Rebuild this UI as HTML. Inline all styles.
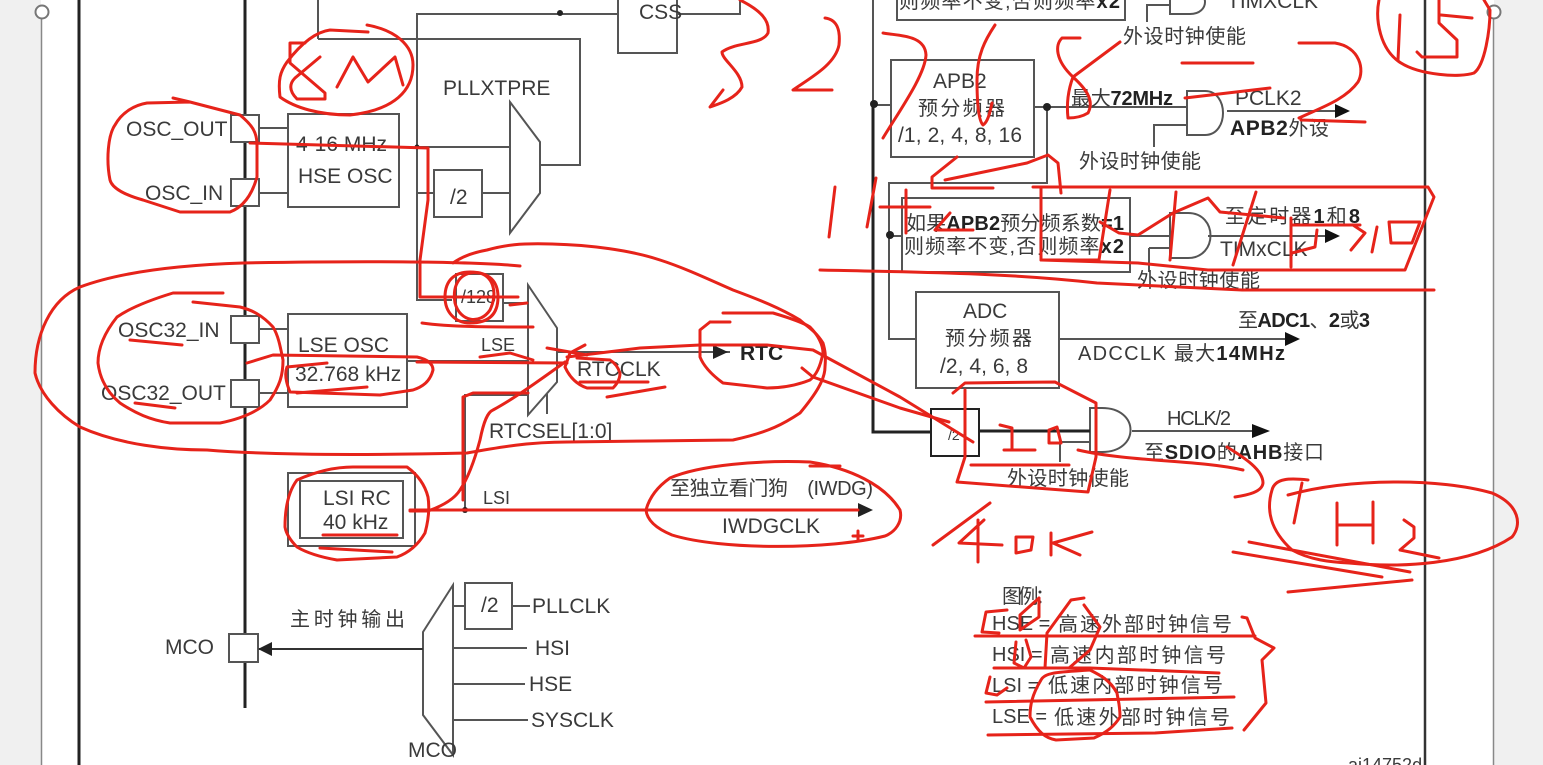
<!DOCTYPE html>
<html><head><meta charset="utf-8"><style>
html,body{margin:0;padding:0;background:#fff}
svg{display:block}
text{font-family:"Liberation Sans","Noto Sans CJK SC",sans-serif;font-size:21px;fill:#3a3a3a}
.b{font-weight:bold;fill:#222}
.c{font-size:20px}
.g{fill:none;stroke:#555;stroke-width:2}
.r{fill:none;stroke:#e6231a;stroke-width:3;stroke-linecap:round;stroke-linejoin:round}
</style></head><body>
<svg width="1543" height="765" viewBox="0 0 1543 765" xmlns="http://www.w3.org/2000/svg">
<rect width="1543" height="765" fill="#fff"/>
<rect x="0" y="0" width="41" height="765" fill="#f0f0f0"/>
<rect x="1494" y="0" width="49" height="765" fill="#f0f0f0"/>
<line x1="41.500" y1="16" x2="41.500" y2="765" stroke="#888" stroke-width="1.500"/>
<line x1="1493.500" y1="16" x2="1493.500" y2="765" stroke="#888" stroke-width="1.500"/>
<circle cx="42" cy="12" r="6.500" fill="#fff" stroke="#777" stroke-width="2"/>
<circle cx="1494" cy="12" r="6.500" fill="#fff" stroke="#777" stroke-width="2"/>
<line x1="79" y1="0" x2="79" y2="765" stroke="#222" stroke-width="3"/>
<line x1="245" y1="0" x2="245" y2="708" stroke="#222" stroke-width="3"/>
<line x1="1425" y1="0" x2="1425" y2="765" stroke="#333" stroke-width="2.500"/>

<!-- gray structure left -->
<g class="g">
<path d="M318 0V39M318 39H417M417 14H618M417 13V300H452M417 39H580V165H540M417 147H510M417 193H434M482 193H510"/>
<path d="M510 102L540 142V193L510 233Z"/>
<rect x="434" y="170" width="48" height="47"/>
<rect x="618" y="-10" width="59" height="63"/>
<path d="M677 14H740V0"/>
<rect x="288" y="114" width="111" height="93"/>
<rect x="231" y="115" width="28" height="27" fill="#fff"/>
<rect x="231" y="179" width="28" height="27" fill="#fff"/>
<path d="M259 128H288M259 193H288"/>
<rect x="288" y="314" width="119" height="93"/>
<rect x="231" y="316" width="28" height="27" fill="#fff"/>
<rect x="231" y="380" width="28" height="27" fill="#fff"/>
<path d="M259 329H288M259 393H288"/>
<rect x="456" y="274" width="47" height="47"/>
<path d="M503 303H528M407 361H528"/>
<path d="M528 285L557 328V382L528 415Z"/>
<path d="M547 394V414"/>
<path d="M558 352H730"/>
<path d="M465 510V395H528"/>
<rect x="288" y="473" width="127" height="73"/>
<rect x="300" y="481" width="103" height="57"/>
<path d="M415 510H860" stroke="#333"/>
<!-- MCO -->
<path d="M423 632L453 585V755L423 715Z"/>
<rect x="465" y="583" width="47" height="46"/>
<path d="M453 606H465M512 606H530M453 648H527M453 684H525M453 720H528"/>
<path d="M258 649H423" stroke="#333"/>
<rect x="229" y="634" width="29" height="28" fill="#fff"/>
</g>
<circle cx="465" cy="510" r="3" fill="#222"/>
<circle cx="417" cy="147" r="2.500" fill="#222"/>
<circle cx="560" cy="13" r="3" fill="#222"/>
<polygon points="258,649 272,642 272,656" fill="#222"/>
<polygon points="713,345 728,352 713,359" fill="#222"/>
<polygon points="858,503 873,510 858,517" fill="#222"/>

<!-- gray structure right -->
<g class="g">
<path d="M873 0V433M873 105H891M1034 107H1187M1047 107V183H889V339H915"/>
<rect x="897" y="-12" width="228" height="32"/>
<rect x="891" y="60" width="143" height="97"/>
<rect x="902" y="198" width="228" height="74"/>
<path d="M889 236H902M1130 236H1170M1149 248H1170M1149 248V272"/>
<path d="M1170 213H1188C1218 213 1218 258 1188 258H1170Z"/>
<path d="M1187 91H1205C1229 91 1229 135 1205 135H1187Z"/>
<path d="M1187 125H1154V147"/>
<path d="M1208 236H1327M1227 111H1335"/>
<path d="M1170 -10V14H1190C1210 14 1210 -10 1190 -10M1170 5H1147V22"/>
<rect x="916" y="292" width="143" height="96"/>
<path d="M1059 339H1290"/>
<rect x="931" y="409" width="48" height="47" stroke="#222"/>
<path d="M979 431H1090M1060 442H1090M1060 442V462"/>
<path d="M1090 408H1102C1140 408 1140 452 1102 452H1090Z"/>
<path d="M1132 431H1255"/>
</g>
<path d="M873 105V432H931" fill="none" stroke="#222" stroke-width="3"/>
<path d="M979 431H1090" stroke="#222" stroke-width="3"/>
<circle cx="874" cy="104" r="4" fill="#222"/>
<circle cx="1047" cy="107" r="4" fill="#222"/>
<circle cx="890" cy="235" r="4" fill="#222"/>
<polygon points="1325,229 1340,236 1325,243" fill="#111"/>
<polygon points="1335,104 1350,111 1335,118" fill="#111"/>
<polygon points="1285,332 1300,339 1285,346" fill="#111"/>
<polygon points="1252,424 1270,431 1252,438" fill="#111"/>

<!-- text -->
<text x="639" y="19">CSS</text>
<text x="443" y="95">PLLXTPRE</text>
<text x="126" y="136">OSC_OUT</text>
<text x="145" y="200">OSC_IN</text>
<text x="296" y="151">4-16 MHz</text>
<text x="298" y="183">HSE OSC</text>
<text x="450" y="204">/2</text>
<text x="461" y="303" style="font-size:18px">/128</text>
<text x="118" y="337">OSC32_IN</text>
<text x="101" y="400">OSC32_OUT</text>
<text x="298" y="352">LSE OSC</text>
<text x="295" y="381">32.768 kHz</text>
<text x="481" y="351" style="font-size:18px">LSE</text>
<text x="577" y="376">RTCCLK</text>
<text class="b" x="740" y="360">RTC</text>
<text x="489" y="438">RTCSEL[1:0]</text>
<text x="323" y="505">LSI RC</text>
<text x="323" y="529">40 kHz</text>
<text x="483" y="504" style="font-size:18px">LSI</text>
<text x="670" y="495" class="c" textLength="203">至独立看门狗　(IWDG)</text>
<text x="722" y="533">IWDGCLK</text>
<text x="290" y="626" class="c" textLength="115">主时钟输出</text>
<text x="165" y="654">MCO</text>
<text x="481" y="612">/2</text>
<text x="532" y="613">PLLCLK</text>
<text x="535" y="655">HSI</text>
<text x="529" y="691">HSE</text>
<text x="531" y="727">SYSCLK</text>
<text x="408" y="757">MCO</text>

<text x="899" y="8" class="c" textLength="221">则频率不变,否则频率<tspan class="b">x2</tspan></text>
<text x="1227" y="8">TIMXCLK</text>
<text x="1123" y="43" class="c" textLength="123">外设时钟使能</text>
<text x="933" y="88">APB2</text>
<text x="918" y="115" class="c" textLength="87">预分频器</text>
<text x="898" y="142" textLength="124">/1, 2, 4, 8, 16</text>
<text x="1071" y="105" class="c" textLength="102">最大<tspan class="b">72MHz</tspan></text>
<text x="1235" y="105">PCLK2</text>
<text x="1230" y="135" class="c" textLength="99"><tspan class="b" style="font-size:21px">APB2</tspan>外设</text>
<text x="1079" y="168" class="c" textLength="122">外设时钟使能</text>
<text x="906" y="230" class="c" textLength="218">如果<tspan class="b">APB2</tspan>预分频系数<tspan class="b">=1</tspan></text>
<text x="904" y="253" class="c" textLength="220">则频率不变,否则频率<tspan class="b">x2</tspan></text>
<text x="1225" y="223" class="c" textLength="135">至定时器<tspan class="b">1</tspan>和<tspan class="b">8</tspan></text>
<text x="1220" y="256">TIMxCLK</text>
<text x="1137" y="287" class="c" textLength="123">外设时钟使能</text>
<text x="963" y="318">ADC</text>
<text x="945" y="345" class="c" textLength="87">预分频器</text>
<text x="940" y="373" textLength="88">/2, 4, 6, 8</text>
<text x="1238" y="327" class="c" textLength="132">至<tspan class="b">ADC1</tspan>、<tspan class="b">2</tspan>或<tspan class="b">3</tspan></text>
<text x="1078" y="360" class="c" textLength="207">ADCCLK  最大<tspan class="b">14MHz</tspan></text>
<text x="948" y="440" style="font-size:14px">/2</text>
<text x="1167" y="425" class="c" textLength="64">HCLK/2</text>
<text x="1007" y="485" class="c" textLength="122">外设时钟使能</text>
<text x="1144" y="459" class="c" textLength="180">至<tspan class="b">SDIO</tspan>的<tspan class="b">AHB</tspan>接口</text>
<text x="1002" y="603" class="c" textLength="53">图例：</text>
<text x="992" y="630" class="c">HSE =</text>
<text x="1058" y="631" class="c" textLength="174">高速外部时钟信号</text>
<text x="992" y="661" class="c">HSI =</text>
<text x="1050" y="662" class="c" textLength="176">高速内部时钟信号</text>
<text x="992" y="692" class="c">LSI =</text>
<text x="1048" y="692" class="c" textLength="175">低速内部时钟信号</text>
<text x="992" y="723" class="c">LSE =</text>
<text x="1054" y="724" class="c" textLength="176">低速外部时钟信号</text>
<text x="1348" y="771" style="font-size:18px">ai14752d</text>

<!-- red annotations -->
<g class="r">
<!-- 8M -->
<path d="M367 25C395 30 413 45 413 65C413 90 395 110 350 115C320 115 295 108 280 97C278 80 280 72 287 62C300 45 315 32 330 30L368 32"/>
<path d="M290 43H305M290 43V63L325 93V99H297C288 90 290 83 295 78L320 57M337 87L353 57L368 82L395 57L403 85"/>
<!-- OSC loop -->
<path d="M173 98L190 102L240 115C252 125 257 132 257 145V177C252 195 243 207 230 212H180L143 200C125 195 112 188 110 180C106 160 108 135 115 125C122 112 135 105 147 103L190 102"/>
<path d="M250 143L428 148V200L420 260V297H518M510 305L527 303"/>
<!-- /128 -->
<path d="M445 297C445 280 455 272 470 272C490 272 498 282 498 297C498 315 488 323 470 323C455 323 445 312 445 297Z"/>
<path d="M455 303C452 285 460 270 480 273C495 278 497 295 490 310C480 325 460 322 455 303Z"/>
<path d="M422 323C450 327 490 327 533 327"/>
<!-- big loop -->
<path d="M520 266C470 261 350 261 243 263C180 265 120 272 80 287C50 300 35 335 35 373C40 395 60 415 80 427C120 445 170 450 207 450C280 456 380 455 467 453C500 447 530 442 567 442C620 441 680 441 733 440C770 432 785 423 800 413C815 395 825 380 825 367C826 355 825 350 823 343C815 330 805 325 800 320C780 308 760 300 733 290C710 280 685 268 660 260C630 250 590 245 552 244C520 243 505 245 487 250C470 253 460 258 453 263"/>
<!-- OSC32 loop -->
<path d="M223 293H173C150 300 130 308 117 317C105 332 98 348 98 363C100 380 108 393 120 403C135 413 150 420 170 423H220C245 418 260 410 270 400C280 385 283 375 283 360C280 345 278 335 273 327C262 315 252 310 240 307L193 302"/>
<path d="M130 340L182 345M135 403L175 408"/>
<!-- LSE -->
<path d="M247 363L273 355L417 357C430 360 433 365 433 370C430 382 422 387 413 390L380 395L290 392C285 380 285 372 287 367L327 363"/>
<path d="M297 393L367 387"/>
<path d="M417 362L567 363M480 357L510 353L533 360"/>
<path d="M547 348L587 355M585 345L570 353L565 367C570 378 578 385 587 388H613C618 383 620 378 620 373C618 367 615 363 610 360L577 358"/>
<path d="M580 382H648M607 397L665 387"/>
<path d="M567 357L640 348L700 345H767L813 350L900 397L973 442"/>
<path d="M802 368L813 377L900 408L949 422"/>
<!-- RTC -->
<path d="M710 322H730M723 313H773C790 318 802 322 810 327C818 335 823 345 823 353C820 368 816 375 810 380C795 386 780 388 767 388L723 383C712 375 704 367 700 357V330L710 322"/>
<!-- LSI -->
<path d="M285 527C285 510 288 492 297 480C315 472 335 467 353 467H407C418 475 425 485 428 497C430 510 428 522 425 533C418 545 408 553 397 557L337 560C320 557 307 553 297 547C290 540 286 533 285 527Z"/>
<path d="M323 535H397M320 548L392 552"/>
<path d="M410 511H428C445 505 455 498 460 490C470 475 476 455 480 440C484 420 488 412 493 410C515 398 540 380 565 362"/>
<path d="M463 500V397L473 393H528"/>
<path d="M410 510H858"/>
<!-- IWDG -->
<path d="M646 510C650 495 660 485 670 478C700 465 760 460 810 462C850 468 885 485 900 510C903 522 895 532 885 536C830 550 720 550 672 535C655 528 647 520 646 510Z"/>
<path d="M810 466H840M853 536H863M858 531V541"/>
<!-- 3 2 7 6 8 -->
<path d="M740 0C760 10 770 20 768 33C762 45 735 42 722 52C722 60 742 72 742 87C735 100 715 105 710 107L723 90"/>
<path d="M825 18C840 20 840 35 839 45C835 65 810 78 793 90H832"/>
<path d="M883 33C900 36 925 35 926 55C925 75 900 110 883 138"/>
<path d="M995 25C985 40 977 55 977 80C977 100 978 120 983 125C988 122 990 112 992 103"/>
<path d="M1080 38H1062C1055 45 1055 60 1073 77C1085 88 1095 100 1088 113C1080 118 1072 118 1068 118C1066 100 1070 85 1073 77L1120 42"/>
<path d="M1182 63H1253"/>
<path d="M1299 43H1335C1360 47 1365 70 1358 82C1345 100 1320 108 1299 118M1301 120L1365 122"/>
<path d="M1185 98L1270 88"/>
<!-- 15 -->
<path d="M1379 0C1375 20 1380 50 1401 63C1420 75 1460 78 1474 73C1485 65 1490 30 1490 10L1484 0"/>
<path d="M1400 15L1398 60M1439 0V23L1457 40V57H1422L1417 52M1441 15L1472 18"/>
<!-- 11+2 -->
<path d="M835 187L829 237M876 178L867 227M906 190V233M880 207H930M950 213L935 230H973"/>
<path d="M957 157L932 177V188H993M945 180L1027 163L1048 155L1058 163L1061 193"/>
<!-- big parallelogram -->
<path d="M1033 187H1428L1434 197L1405 270H1208L1138 263L1041 260V187"/>
<path d="M1041 260H1099L1110 190M1176 192L1170 260M1256 192L1233 265"/>
<path d="M1100 222L1119 233L1138 235L1173 213L1208 198L1220 212L1284 218"/>
<path d="M1291 218V267M1291 225H1360M1317 230L1315 247L1292 253M1353 225L1365 233L1351 250M1377 227L1372 252"/>
<path d="M1389 222H1420L1412 243H1391Z"/>
<path d="M820 270C900 272 1000 272 1097 283L1242 290H1434"/>
<!-- /2 box and 1 0 -->
<path d="M953 393L965 383L1055 382L1096 403V457L1088 492L957 482L965 457V390"/>
<path d="M1000 425L1012 428V450M1004 450H1035M1049 430V443H1061L1057 427L1049 430M971 465H1069"/>
<path d="M1078 450C1130 462 1200 460 1243 470M1227 447C1245 458 1263 470 1263 483C1262 492 1248 495 1235 497"/>
<!-- 40K -->
<path d="M990 503L933 545M984 520L959 543L1002 545M978 520V562"/>
<path d="M1016 537V553L1031 550L1033 537H1016M1051 533V555M1092 532L1053 543L1080 555"/>
<!-- H2 -->
<path d="M1308 480C1290 478 1275 478 1272 490C1266 510 1270 530 1292 550C1310 560 1330 562 1349 563C1400 568 1470 565 1512 537C1522 525 1520 505 1492 493C1440 478 1350 478 1288 495"/>
<path d="M1302 483L1294 523M1337 503V545M1337 525H1373M1373 502V543M1404 520L1414 527V538L1400 550L1439 558"/>
<path d="M1249 542L1410 572M1233 552L1382 577M1288 592L1412 580"/>
<!-- legend -->
<path d="M1007 610L986 612L982 632L999 633M1039 598L1020 615V630L1039 617V598"/>
<path d="M1084 598L1071 600L1047 633L1045 668M1084 605L1100 627L1090 650L1069 668"/>
<path d="M975 636H1255M994 668H1090L1219 673M986 702L1234 697M988 735L1155 733L1232 728"/>
<path d="M1016 642L1014 663L1024 668L1031 657L1026 640M990 677L986 693L997 695L1007 688"/>
<path d="M1090 670C1060 672 1045 672 1041 680C1032 695 1030 705 1030 717C1038 732 1045 738 1056 740L1094 738C1108 732 1115 725 1120 717C1120 705 1118 700 1117 693C1110 680 1100 675 1090 670Z"/>
<path d="M1242 617L1247 618L1255 638L1274 648L1262 660L1266 703L1244 730"/>
</g>
</svg>
</body></html>
